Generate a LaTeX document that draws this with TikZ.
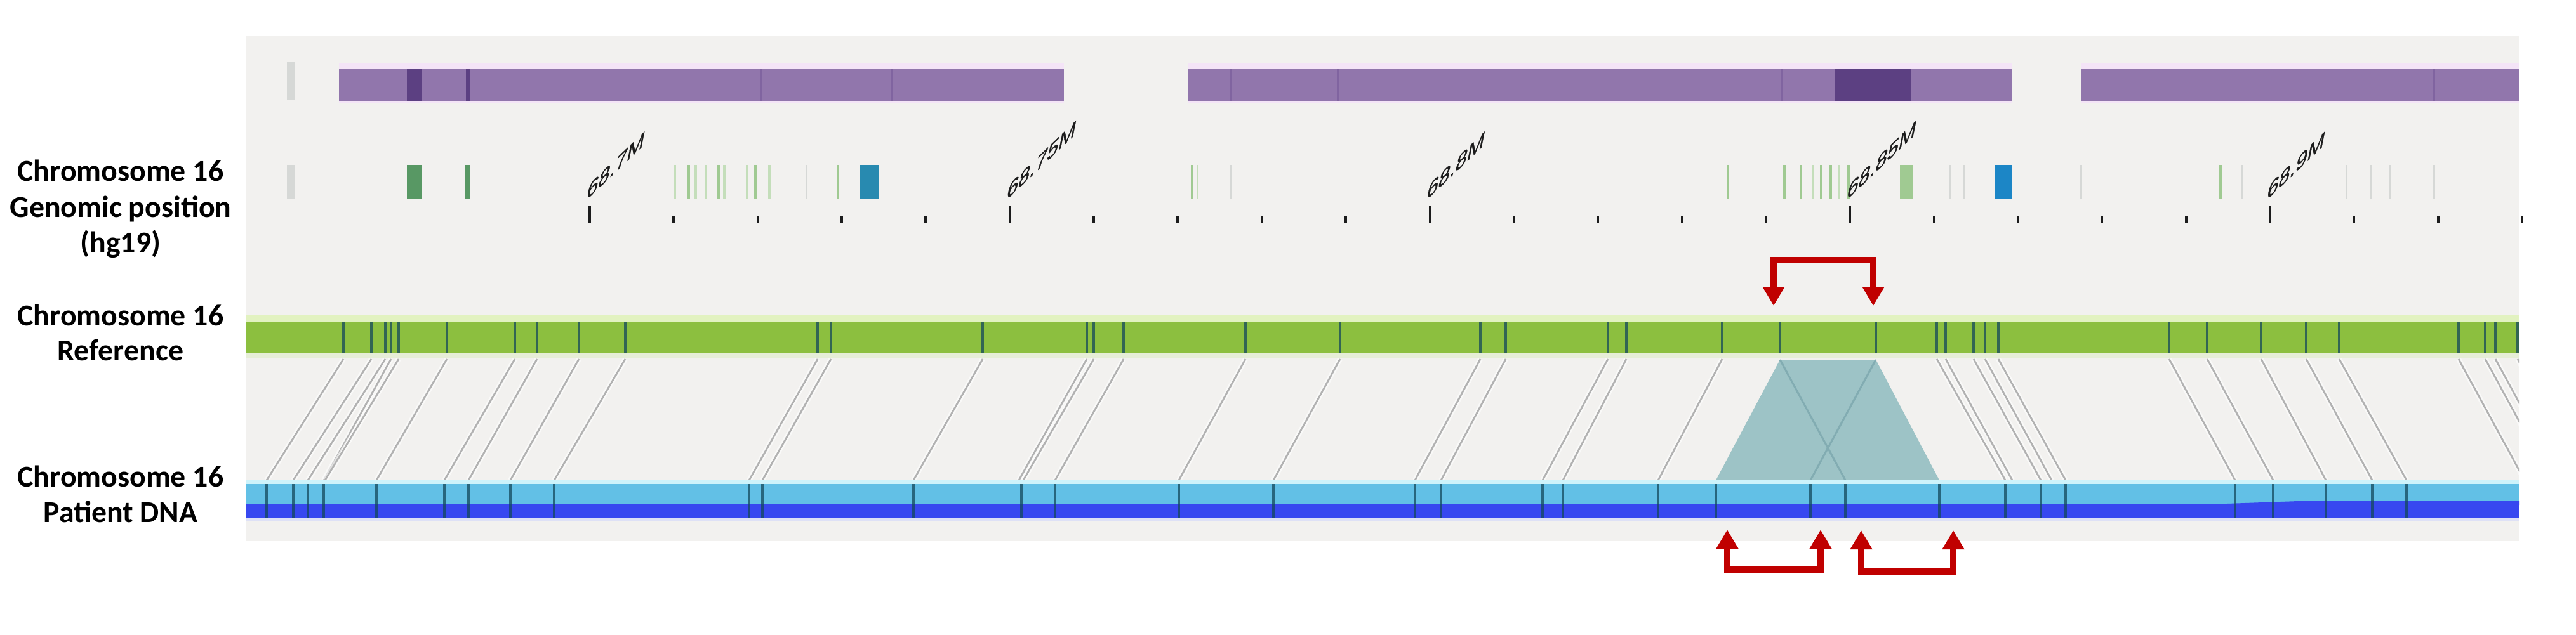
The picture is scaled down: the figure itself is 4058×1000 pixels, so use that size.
\documentclass[tikz,border=0pt]{standalone}
\usepackage{fontspec}
\setmainfont{Carlito}
\newfontfamily\tickfont[FakeBold=1]{Liberation Sans}
\usetikzlibrary{arrows.meta}
\definecolor{panelbg}{RGB}{242,241,239}
\definecolor{purp}{RGB}{145,118,172}
\definecolor{purpdark}{RGB}{92,64,130}
\definecolor{purpline}{RGB}{128,100,160}
\definecolor{pinkglow}{RGB}{244,228,247}
\definecolor{refgreen}{RGB}{140,191,63}
\definecolor{greenglowA}{RGB}{226,242,192}
\definecolor{greenglowB}{RGB}{230,238,215}
\definecolor{patlight}{RGB}{98,192,230}
\definecolor{patdark}{RGB}{55,72,240}
\definecolor{cyanglow}{RGB}{205,243,251}
\definecolor{blueglow}{RGB}{222,225,246}
\definecolor{markcol}{RGB}{20,72,92}
\definecolor{conncol}{RGB}{178,178,178}
\definecolor{trapfill}{RGB}{157,195,198}
\definecolor{trapline}{RGB}{130,172,178}
\definecolor{arrred}{RGB}{192,0,0}
\definecolor{ticktext}{RGB}{28,28,28}
\definecolor{gnLight}{RGB}{196,222,186}
\definecolor{gnMid}{RGB}{160,202,146}
\definecolor{gnDark}{RGB}{88,152,100}
\definecolor{gnGrey}{RGB}{214,216,214}
\definecolor{gnTeal}{RGB}{40,138,176}
\definecolor{gnBlue}{RGB}{28,134,198}
\begin{document}
\begin{tikzpicture}[x=0.1mm,y=-0.1mm,
  lbl/.style={font=\fontsize{13.6}{16}\selectfont\bfseries, anchor=base, inner sep=0pt},
  barmark/.style={draw=markcol, draw opacity=0.75, line width=0.42mm},
  conn/.style={draw=conncol, line width=0.28mm},
  connhalo/.style={draw=white, line width=0.8mm, draw opacity=0.6},
  redarr/.style={draw=arrred, line width=1mm, {Triangle[width=3.3mm,length=3mm]}-{Triangle[width=3.3mm,length=3mm]}},
  axtick/.style={draw=ticktext, line width=0.4mm},
  ticklbl/.style={font=\tickfont\fontsize{10.5}{12}\selectfont, text=ticktext, anchor=base west, inner sep=0pt, transform shape},
]
\useasboundingbox (0,0) rectangle (4058,1000);
\fill[white] (0,0) rectangle (4058,1000);
\fill[panelbg] (387,57) rectangle (3968,853);

% ---- purple track
\foreach \a/\b in {534/1676, 1872/3170, 3278/3968} {
  \fill[pinkglow] (\a,100) rectangle (\b,163);
  \fill[purp] (\a,108) rectangle (\b,159);
}
\fill[gnGrey] (452,97) rectangle (464,157);
\fill[purpdark] (641,108) rectangle (665,159);
\fill[purpdark] (734,108) rectangle (740,159);
\foreach \x in {1199,1405,1939,2107,2806,3834} \draw[purpline, line width=0.3mm] (\x,108) -- (\x,159);
\fill[purpdark] (2890,108) rectangle (3010,159);

% ---- gene track
\foreach \c/\w/\col in {458/12/gnGrey, 653/24/gnDark, 737/8/gnDark, 1063/4/gnLight, 1085/4/gnMid,
  1096/4/gnLight, 1112/4/gnLight, 1132/4/gnMid, 1141/4/gnLight, 1177/4/gnLight, 1190/4/gnMid,
  1212/4/gnLight, 1270/3/gnGrey, 1320/4/gnMid, 1369/29/gnTeal, 1877/3/gnMid, 1886/3/gnLight,
  1939/3/gnGrey, 2722/4/gnMid, 2811/4/gnMid, 2837/4/gnMid, 2856/4/gnLight, 2869/4/gnMid,
  2884/4/gnMid, 2897/4/gnLight, 2912/4/gnMid, 3003/20/gnMid, 3072/3/gnGrey, 3094/3/gnGrey,
  3156/27/gnBlue, 3278/3/gnGrey, 3497/5/gnMid, 3531/3/gnGrey, 3696/3/gnGrey, 3735/3/gnGrey,
  3765/3/gnGrey, 3834/3/gnGrey}
  \fill[\col] ({\c-\w/2},260) rectangle ({\c+\w/2},313);

% ---- axis ticks
\foreach \k in {0,...,23} {
  \pgfmathsetmacro\tx{929+132.35*\k}
  \pgfmathtruncatemacro\ismaj{mod(\k,5)==0 ? 1 : 0}
  \ifnum\ismaj=1 \draw[axtick] (\tx,325) -- (\tx,352); \else \draw[axtick] (\tx,340) -- (\tx,352); \fi
}
\foreach \k/\t in {0/68.7M,5/68.75M,10/68.8M,15/68.85M,20/68.9M} {
  \pgfmathsetmacro\tx{929+132.35*\k-7}
  \begin{scope}[shift={(\tx,317)}, cm={0.88,0.84,0.2,1,(0,0)}]
    \node[ticklbl] (ml\k) at (0,0) {\t};
  \end{scope}
}

% ---- reference bar
\fill[greenglowA] (387,497) rectangle (3968,507);
\fill[greenglowB] (387,557) rectangle (3968,565);
\fill[refgreen] (387,507) rectangle (3968,557);
\foreach \x in {541,585,607,616,628,704,811,846,912,985,1288,1309,1548,1712,1723,1770,1962,2111,
  2332,2372,2533,2562,2713,2804,2955,3051,3065,3109,3127,3148,3417,3477,3562,3633,3685,3873,3915,3931,3966}
  \draw[barmark] (\x,507) -- (\x,557);

% ---- connectors
\begin{scope}
\clip (387,57) rectangle (3968,853);
\foreach \r/\p [count=\i] in {541/420, 585/462, 607/485, 616/510, 628/512, 704/593, 811/700, 846/738,
  912/804, 985/873, 1288/1180, 1309/1201, 1548/1439, 1712/1605, 1723/1612, 1770/1662, 1962/1857,
  2111/2006, 2332/2229, 2372/2270, 2533/2430, 2562/2462, 2713/2612, 3051/3159, 3065/3170, 3109/3215,
  3127/3232, 3148/3254, 3417/3521, 3477/3581, 3562/3664, 3633/3737, 3685/3791, 3873/3977, 3915/4019,
  3931/4035, 3966/4070} {
  \coordinate (cr\i) at (\r,566);
  \coordinate (cp\i) at (\p,757);
  \draw[connhalo] (cr\i) -- (cp\i);
  \draw[conn] (cr\i) -- (cp\i);
}
\end{scope}

% ---- duplicated segment
\coordinate (t1) at (2804,567);
\coordinate (t2) at (2955,567);
\coordinate (t3) at (3055,757);
\coordinate (t4) at (2703,757);
\coordinate (x1) at (2907,757);
\coordinate (x2) at (2852,757);
\fill[trapfill] (t1) -- (t2) -- (t3) -- (t4) -- cycle;
\draw[trapline, line width=0.3mm] (t1) -- (x1);
\draw[trapline, line width=0.3mm] (t2) -- (x2);

% ---- patient bar
\fill[cyanglow] (387,757) rectangle (3968,763);
\fill[blueglow] (387,817) rectangle (3968,822);
\fill[patlight] (387,763) rectangle (3968,795);
\fill[patdark] (387,795) rectangle (3968,817);
\fill[patdark] (3480,795) -- (3620,790) -- (3968,789) -- (3968,796) -- cycle;
\foreach \x in {420,462,485,510,593,700,738,804,873,1180,1201,1439,1609,1662,1857,2006,2229,2270,
  2430,2462,2612,2703,2852,2907,3055,3159,3215,3254,3521,3581,3664,3737,3791}
  \draw[barmark] (\x,763) -- (\x,817);

% ---- red arrows
\coordinate (ta1) at (2794,482);
\coordinate (ta2) at (2951,482);
\draw[redarr] (ta1) -- ++(0,-72) -| (ta2);
\coordinate (ba1) at (2721,835);
\coordinate (ba2) at (2868,835);
\draw[redarr] (ba1) -- ++(0,63) -| (ba2);
\coordinate (bb1) at (2932,836);
\coordinate (bb2) at (3077,836);
\draw[redarr] (bb1) -- ++(0,65) -| (bb2);

% ---- left labels
\node[lbl] (labG1) at (190,285) {Chromosome 16};
\node[lbl] (labG2) at (190,342) {Genomic position};
\node[lbl] (labG3) at (190,398) {(hg19)};
\node[lbl] (labR1) at (190,513) {Chromosome 16};
\node[lbl] (labR2) at (190,568) {Reference};
\node[lbl] (labP1) at (190,767) {Chromosome 16};
\node[lbl] (labP2) at (190,823) {Patient DNA};
\end{tikzpicture}
\end{document}
